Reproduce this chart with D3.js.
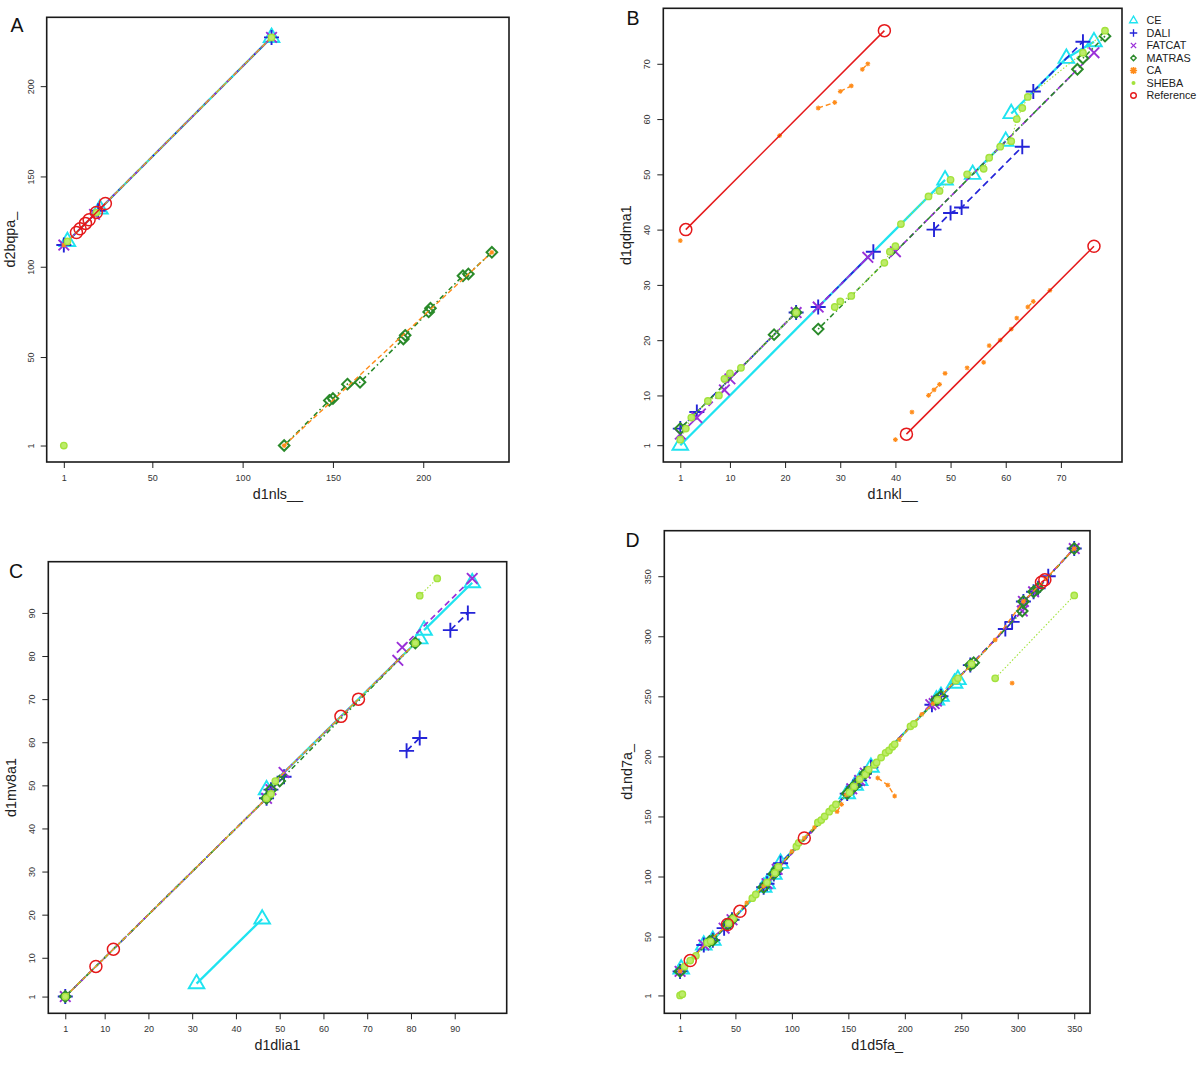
<!DOCTYPE html>
<html><head><meta charset="utf-8">
<script src="https://cdn.jsdelivr.net/npm/d3@7"></script>
<style>body{margin:0;background:#fff}svg{display:block}</style>
</head><body>
<svg id="chart" width="1200" height="1070"></svg>
<script>
// ---------------- DATA ----------------
const methods = ["CE", "DALI", "FATCAT", "MATRAS", "CA", "SHEBA", "Reference"];

// Panel A : d1nls__ vs d2bqpa_
const A_xLim = [1, 238], A_yLim = [1, 229];
const A_xTicks = [1, 50, 100, 150, 200], A_yTicks = [1, 50, 100, 150, 200];
const A_CE = [[[3,114],[21,132],[116,227]]];
const A_DALI = [[[1,112],[20,131],[116,227]]];
const A_FATCAT = [[[1,112],[18,129],[116,227]]];
const A_MATRAS = [[[123,1],[148,26],[150,27],[158,35],[165,36],[189,60],[190,62],[203,75],[204,77],[222,95],[225,96],[238,108]]];
const A_CA = [[[1,112],[116,227]],[[123,1],[238,108]]];
const A_SHEBA = [[[1,1]],[[3,114],[19,130],[116,227]]];
const A_Reference = [[[8,119],[10,121],[13,124],[15,126],[19,130],[24,135]]];

// Panel B : d1nkl__ vs d1qdma1
const B_xLim = [1, 78], B_yLim = [1, 77];
const B_xTicks = [1, 10, 20, 30, 40, 50, 60, 70], B_yTicks = [1, 10, 20, 30, 40, 50, 60, 70];
const B_CE = [[[1,1],[49,49]],[[54,50],[60,56]],[[61,61],[71,71],[76,74]]];
const B_DALI = [[[1,4],[4,7],[22,25]],[[26,26],[36,36]],[[47,40],[50,43],[52,44],[63,55]],[[65,65],[74,74]]];
const B_FATCAT = [[[1,3],[4,6],[9,11],[10,13],[22,25]],[[26,26],[35,35]],[[40,36],[76,72]]];
const B_MATRAS = [[[1,4],[18,21],[22,25]],[[26,22],[73,69]],[[74,71],[78,75]]];
const B_CA = [[[1,38]],[[19,57]],[[26,62],[29,63]],[[30,65],[32,66]],[[34,69],[35,70]],[[40,2]],[[43,7]],[[46,10],[47,11],[48,12]],[[49,14]],[[53,15]],[[56,16]],[[57,19]],[[59,20]],[[61,22]],[[62,24]],[[64,26],[65,27]],[[68,29]]];
const B_SHEBA = [[[1,2],[2,4],[3,6],[6,9],[8,10],[9,13],[10,14],[12,15],[22,25]],[[29,26],[30,27],[32,28],[38,34],[39,36],[40,37]],[[41,41],[46,46],[48,47],[50,49]],[[53,50],[56,51],[57,53],[59,55],[61,56],[62,60],[63,62],[64,64],[74,72],[78,76]]];
const B_Reference = [[[2,40],[38,76]],[[42,3],[76,37]]];

// Panel C : d1dlia1 vs d1mv8a1
const C_xLim = [1, 98], C_yLim = [1, 98];
const C_xTicks = [1, 10, 20, 30, 40, 50, 60, 70, 80, 90], C_yTicks = [1, 10, 20, 30, 40, 50, 60, 70, 80, 90];
const C_CE = [[[31,4],[46,19]],[[47,49],[82,84]],[[83,86],[94,97]]];
const C_DALI = [[[1,1],[47,47]],[[48,49],[51,52]],[[79,58],[82,61]],[[89,86],[93,90]]];
const C_FATCAT = [[[1,1],[47,47],[48,49],[51,53],[77,79]],[[78,82],[94,98]]];
const C_MATRAS = [[[1,1],[47,47]],[[48,49],[50,51],[81,83]]];
const C_CA = [[[1,1],[47,47]],[[49,51],[81,83]]];
const C_SHEBA = [[[1,1],[47,47]],[[48,48]],[[49,51],[81,83]],[[82,94],[86,98]]];
const C_Reference = [[[8,8]],[[12,12]],[[64,66]],[[68,70]]];

// Panel D : d1d5fa_ vs d1nd7a_
const D_xLim = [1, 350], D_yLim = [1, 373];
const D_xTicks = [1, 50, 100, 150, 200, 250, 300, 350], D_yTicks = [1, 50, 100, 150, 200, 250, 300, 350];
const D_CE = [[[2,23],[22,43],[30,47],[75,91],[78,94],[84,102],[90,111],[149,169],[156,176],[160,180],[170,191],[228,247],[232,250],[244,261],[247,264]]];
const D_DALI = [[[1,21],[22,43],[30,47],[40,57],[47,64],[75,91],[78,94],[84,102],[90,111],[149,169],[156,176],[160,180],[170,191],[224,243],[232,250],[258,276],[289,306],[295,312],[305,329],[314,337],[318,340],[327,350],[350,373]]];
const D_FATCAT = [[[1,21],[22,43],[40,57],[47,64],[78,94],[87,106],[153,173],[160,180],[165,186],[223,243],[226,244],[228,246],[304,321],[305,329],[314,337],[350,373]]];
const D_MATRAS = [[[1,21],[27,46],[30,47],[43,60],[47,64],[75,91],[84,102],[87,106],[149,169],[153,173],[156,176],[165,186],[228,247],[232,250],[258,276],[261,278],[304,321],[305,329],[314,337],[318,340],[350,373]]];
const D_CA = [[[1,21],[10,30],[25,45],[43,60],[60,78],[75,92],[88,107],[100,121],[111,132],[120,141],[135,155]],[[140,154],[144,160]],[[148,168],[160,180],[172,193]],[[176,182],[185,176],[191,167]],[[195,214],[205,225],[215,235],[225,244],[245,263],[260,277],[280,297],[305,329],[325,348],[350,373]],[[295,261]]];
const D_SHEBA = [[[1,1],[3,2]],[[5,25],[10,30],[15,34],[25,45],[28,46],[44,61],[48,65],[65,82],[68,85],[78,95],[85,103],[88,108],[104,125],[106,128],[123,145],[126,147],[129,150],[133,154],[136,157],[139,160],[151,170],[155,175],[160,181],[165,185],[168,189],[173,193],[175,195],[179,199],[183,203],[186,205],[189,208],[191,210],[205,225],[208,227],[229,247],[245,263],[247,265],[259,277]],[[280,265],[350,334]]];
const D_Reference = [[[10,30]],[[43,60]],[[54,71]],[[111,132]],[[321,345],[324,347]]];

// ---------------- STYLES / LAYOUT ----------------
const colors = {CE:"#1fe3f0", DALI:"#2424d8", FATCAT:"#9a30d8", MATRAS:"#2a8a2a", CA:"#ff8c1a", SHEBA:"#a3e23c", Reference:"#e5191b"};
const lineStyle = {
  CE:{w:2.3, dash:null}, DALI:{w:1.7, dash:"7,4"}, FATCAT:{w:1.7, dash:"6,4"},
  MATRAS:{w:1.6, dash:"1.5,3,5,3"}, CA:{w:1.4, dash:"5,3"}, SHEBA:{w:1.1, dash:"1.5,2"},
  Reference:{w:1.5, dash:null}
};
const FONT = "'Liberation Sans', Arial, Helvetica, sans-serif";

const panels = [
  {id:"A", box:{l:46.7, r:509, t:17.3, b:462}, letter:[17,32], xlab:"d1nls__", ylab:"d2bqpa_",
   xLim:A_xLim, yLim:A_yLim, xTicks:A_xTicks, yTicks:A_yTicks,
   series:{CE:A_CE, DALI:A_DALI, FATCAT:A_FATCAT, MATRAS:A_MATRAS, CA:A_CA, SHEBA:A_SHEBA, Reference:A_Reference}},
  {id:"B", box:{l:663.3, r:1122, t:8.3, b:462}, letter:[633,25], xlab:"d1nkl__", ylab:"d1qdma1",
   xLim:B_xLim, yLim:B_yLim, xTicks:B_xTicks, yTicks:B_yTicks,
   series:{CE:B_CE, DALI:B_DALI, FATCAT:B_FATCAT, MATRAS:B_MATRAS, CA:B_CA, SHEBA:B_SHEBA, Reference:B_Reference}},
  {id:"C", box:{l:48.3, r:506.7, t:561.7, b:1013.3}, letter:[16,578], xlab:"d1dlia1", ylab:"d1mv8a1",
   xLim:C_xLim, yLim:C_yLim, xTicks:C_xTicks, yTicks:C_yTicks,
   series:{CE:C_CE, DALI:C_DALI, FATCAT:C_FATCAT, MATRAS:C_MATRAS, CA:C_CA, SHEBA:C_SHEBA, Reference:C_Reference}},
  {id:"D", box:{l:664.3, r:1090, t:530.7, b:1013.3}, letter:[632.5,547], xlab:"d1d5fa_", ylab:"d1nd7a_",
   xLim:D_xLim, yLim:D_yLim, xTicks:D_xTicks, yTicks:D_yTicks,
   series:{CE:D_CE, DALI:D_DALI, FATCAT:D_FATCAT, MATRAS:D_MATRAS, CA:D_CA, SHEBA:D_SHEBA, Reference:D_Reference}}
];

const svg = d3.select("#chart");
svg.append("rect").attr("width",1200).attr("height",1070).attr("fill","#fff");

function ext(l){ const d=(l[1]-l[0])*0.04; return [l[0]-d, l[1]+d]; }

function marker(g, m, x, y, k){
  k = k || 1;
  const c = colors[m];
  if (m === "CE") {
    const s = 7.8*k, h = 8.8*k;
    g.append("path").attr("d", `M${x},${y-h}L${x+s},${y+h*0.52}L${x-s},${y+h*0.52}Z`)
      .attr("fill","none").attr("stroke",c).attr("stroke-width",1.9*Math.max(k,0.7)).attr("stroke-linejoin","miter");
  } else if (m === "DALI") {
    const a = 7.5*k;
    g.append("path").attr("d", `M${x-a},${y}H${x+a}M${x},${y-a}V${y+a}`)
      .attr("stroke",c).attr("stroke-width",1.9*Math.max(k,0.7)).attr("fill","none");
  } else if (m === "FATCAT") {
    const a = 5.3*k;
    g.append("path").attr("d", `M${x-a},${y-a}L${x+a},${y+a}M${x-a},${y+a}L${x+a},${y-a}`)
      .attr("stroke",c).attr("stroke-width",1.9*Math.max(k,0.7)).attr("fill","none");
  } else if (m === "MATRAS") {
    const a = 5.3*k;
    g.append("path").attr("d", `M${x},${y-a}L${x+a},${y}L${x},${y+a}L${x-a},${y}Z`)
      .attr("stroke",c).attr("stroke-width",2*Math.max(k,0.7)).attr("fill","none");
  } else if (m === "CA") {
    const a = 2.4*k, b = a*0.72;
    g.append("path").attr("d", `M${x-a},${y}H${x+a}M${x},${y-a}V${y+a}M${x-b},${y-b}L${x+b},${y+b}M${x-b},${y+b}L${x+b},${y-b}`)
      .attr("stroke",c).attr("stroke-width",1.1*Math.max(k,1)).attr("fill","none");
  } else if (m === "SHEBA") {
    g.append("circle").attr("cx",x).attr("cy",y).attr("r",3.2*k)
      .attr("fill","#bdec6a").attr("stroke",c).attr("stroke-width",1.4);
  } else {
    g.append("circle").attr("cx",x).attr("cy",y).attr("r",6*k)
      .attr("fill","none").attr("stroke",c).attr("stroke-width",1.5);
  }
}

panels.forEach(p => {
  const b = p.box;
  const x = d3.scaleLinear().domain(ext(p.xLim)).range([b.l, b.r]);
  const y = d3.scaleLinear().domain(ext(p.yLim)).range([b.b, b.t]);
  const g = svg.append("g").attr("class","panel-"+p.id);

  const clipId = "clip"+p.id;
  svg.append("clipPath").attr("id",clipId).append("rect")
    .attr("x",b.l).attr("y",b.t).attr("width",b.r-b.l).attr("height",b.b-b.t);
  const plot = g.append("g").attr("clip-path",`url(#${clipId})`);

  const line = d3.line().x(d=>x(d[0])).y(d=>y(d[1]));
  methods.forEach(m => {
    const segs = p.series[m];
    const st = lineStyle[m];
    const mg = plot.append("g").attr("class","series-"+m);
    segs.forEach(seg => {
      if (seg.length > 1) {
        mg.append("path").attr("d", line(seg)).attr("fill","none")
          .attr("stroke", colors[m]).attr("stroke-width", st.w)
          .attr("stroke-dasharray", st.dash).attr("stroke-linecap","butt");
      }
    });
    segs.forEach(seg => seg.forEach(pt => marker(mg, m, x(pt[0]), y(pt[1]))));
  });

  // axes
  const xa = g.append("g").attr("transform",`translate(0,${b.b})`)
    .call(d3.axisBottom(x).tickValues(p.xTicks).tickSize(6).tickFormat(d3.format("d")));
  xa.select(".domain").remove();
  xa.selectAll("text").attr("y",19).attr("dy",0).attr("font-size",9).attr("fill","#333").attr("font-family",FONT);
  xa.selectAll("line").attr("stroke","#222");

  const ya = g.append("g").attr("transform",`translate(${b.l},0)`)
    .call(d3.axisLeft(y).tickValues(p.yTicks).tickSize(6).tickFormat(d3.format("d")));
  ya.select(".domain").remove();
  ya.selectAll("text").attr("x",0).attr("y",0).attr("dy",0).attr("text-anchor","middle")
    .attr("transform","translate(-13,0) rotate(-90)").attr("font-size",9).attr("fill","#333").attr("font-family",FONT);
  ya.selectAll("line").attr("stroke","#222");

  // box
  g.append("rect").attr("x",b.l).attr("y",b.t).attr("width",b.r-b.l).attr("height",b.b-b.t)
    .attr("fill","none").attr("stroke","#1a1a1a").attr("stroke-width",1.6);

  // labels
  g.append("text").attr("x",(b.l+b.r)/2).attr("y",b.b+37).attr("text-anchor","middle")
    .attr("font-size",14.3).attr("font-family",FONT).attr("fill","#222").text(p.xlab);
  g.append("text").attr("transform",`translate(${b.l-32},${(b.t+b.b)/2}) rotate(-90)`)
    .attr("text-anchor","middle").attr("font-size",14.3).attr("font-family",FONT).attr("fill","#222").text(p.ylab);
  g.append("text").attr("x",p.letter[0]).attr("y",p.letter[1]).attr("text-anchor","middle")
    .attr("font-size",19.5).attr("font-family",FONT).attr("fill","#111").text(p.id);
});

// legend (panel B, right side)
const leg = svg.append("g").attr("class","legend");
methods.forEach((m,i) => {
  const yy = 20.5 + i*12.5;
  const lg = leg.append("g");
  if (m === "SHEBA") {
    lg.append("circle").attr("cx",1133.5).attr("cy",yy).attr("r",2).attr("fill",colors[m]);
  } else if (m === "Reference") {
    lg.append("circle").attr("cx",1133.5).attr("cy",yy).attr("r",2.8).attr("fill","none").attr("stroke",colors[m]).attr("stroke-width",1.4);
  } else if (m === "CA") {
    marker(lg, m, 1133.5, yy, 1.5);
  } else {
    marker(lg, m, 1133.5, yy, 0.5);
  }
  leg.append("text").attr("x",1146.5).attr("y",yy+3.8).attr("font-size",10.8)
    .attr("font-family",FONT).attr("fill","#222").text(m);
});
</script>
</body></html>
